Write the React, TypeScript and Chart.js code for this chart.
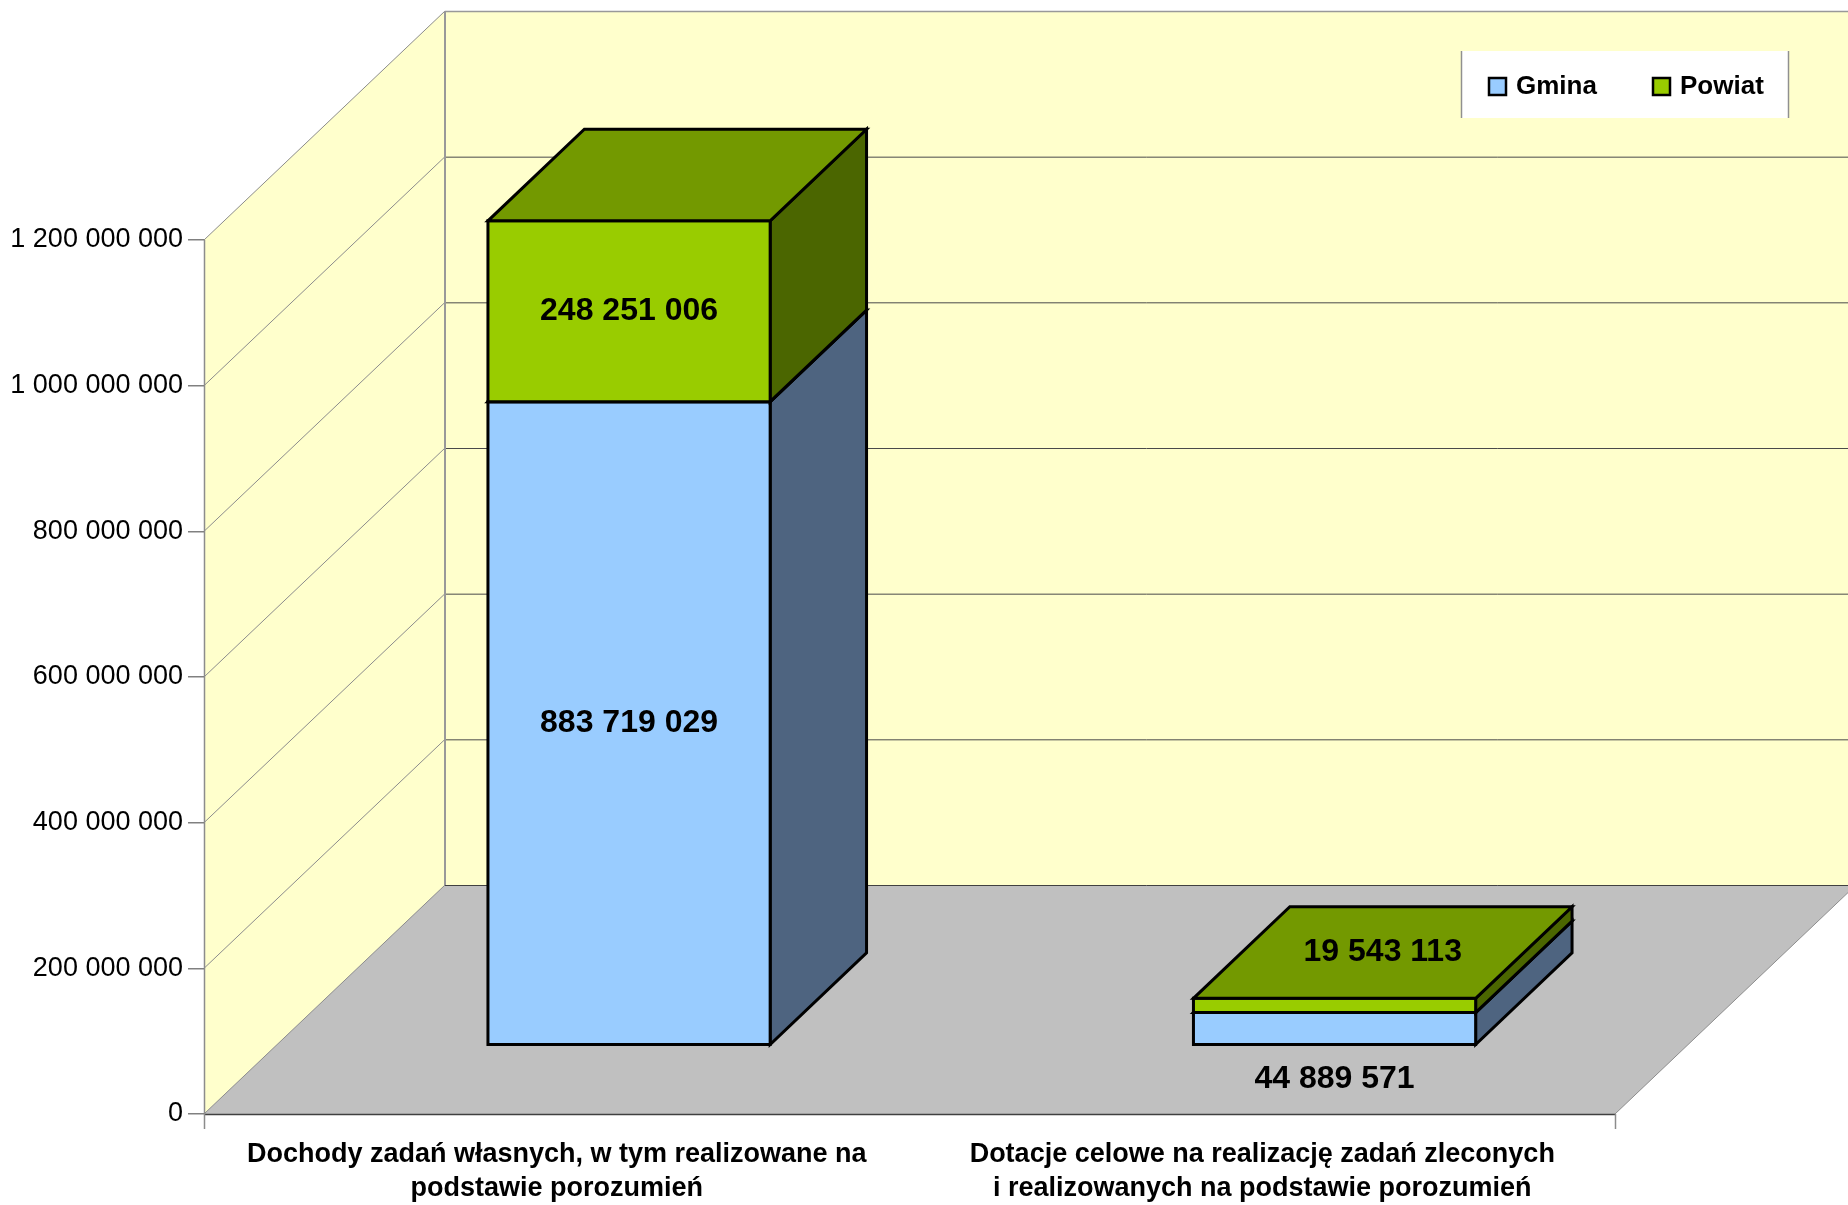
import React, { useEffect, useRef } from "react";
import { Chart, registerables } from "chart.js";

Chart.register(...registerables);

// ---------------- data ----------------
const categories: string[][] = [
  ["Dochody zadań własnych, w tym realizowane na", "podstawie porozumień"],
  ["Dotacje celowe na realizację zadań zleconych", "i realizowanych na podstawie porozumień"],
];
const seriesNames = ["Gmina", "Powiat"];
const gminaValues = [883719029, 44889571];
const powiatValues = [248251006, 19543113];
const yTickValues = [0, 200000000, 400000000, 600000000, 800000000, 1000000000, 1200000000];
// where each value label sits: on the front face, on the top face, or under the bar
const gminaLabelAnchor = ["front", "below"];
const powiatLabelAnchor = ["front", "top"];

// ---------------- styling ----------------
const W = 1848;
const H = 1205;
const FONT = '"Liberation Sans", Arial, Helvetica, sans-serif';
const WALL = "#FFFFCC";
const FLOOR = "#C0C0C0";
const DX = 241; // full depth of the 3D box, horizontal
const DY = 229; // full depth of the 3D box, vertical
const BAR_FRONT = 0.3;
const BAR_BACK = 0.7;
const faceColors = [
  { front: "#99CCFF", side: "#4E6480", top: "#7A9CC0" },
  { front: "#99CC00", side: "#4B6600", top: "#739900" },
];

const fmt = (v: number) => Math.round(v).toString().replace(/\B(?=(\d{3})+(?!\d))/g, " ");

function poly(ctx: CanvasRenderingContext2D, pts: number[][], fill?: string, stroke?: string, lw = 1) {
  ctx.beginPath();
  pts.forEach((p, i) => (i === 0 ? ctx.moveTo(p[0], p[1]) : ctx.lineTo(p[0], p[1])));
  ctx.closePath();
  if (fill) {
    ctx.fillStyle = fill;
    ctx.fill();
  }
  if (stroke) {
    ctx.strokeStyle = stroke;
    ctx.lineWidth = lw;
    ctx.stroke();
  }
}

function line(ctx: CanvasRenderingContext2D, x1: number, y1: number, x2: number, y2: number, color: string, lw: number) {
  ctx.beginPath();
  ctx.moveTo(x1, y1);
  ctx.lineTo(x2, y2);
  ctx.strokeStyle = color;
  ctx.lineWidth = lw;
  ctx.stroke();
}

const threeDPlugin = {
  id: "threeD",
  beforeDraw(chart: any) {
    const { ctx, chartArea } = chart;
    const { left, right } = chartArea;
    const ys = chart.scales.y;
    const yTop = ys.getPixelForValue(ys.max);
    const y0 = ys.getPixelForValue(0);
    const cw = chart.width;
    ctx.save();
    ctx.fillStyle = "#ffffff";
    ctx.fillRect(0, 0, cw, chart.height);
    // back wall
    ctx.fillStyle = WALL;
    ctx.fillRect(left + DX, yTop - DY, cw - left - DX, y0 - yTop);
    // side wall
    poly(ctx, [[left, yTop], [left + DX, yTop - DY], [left + DX, y0 - DY], [left, y0]], WALL);
    // floor
    poly(ctx, [[left, y0], [right, y0], [right + DX, y0 - DY], [left + DX, y0 - DY]], FLOOR);
    // grid lines
    yTickValues.forEach((v) => {
      if (v <= ys.min || v >= ys.max) return;
      const p = ys.getPixelForValue(v);
      line(ctx, left, p, left + DX, p - DY, "#8c8c8c", 1);
      line(ctx, left + DX, p - DY + 0.5, cw, p - DY + 0.5, "#4a4a4a", 1);
    });
    // edges
    line(ctx, left, yTop, left + DX, yTop - DY, "#8c8c8c", 1);
    line(ctx, left + DX, yTop - DY + 0.5, cw, yTop - DY + 0.5, "#999999", 1.5);
    line(ctx, left + DX, yTop - DY, left + DX, y0 - DY, "#999999", 2);
    line(ctx, left + DX, y0 - DY + 0.5, cw, y0 - DY + 0.5, "#404040", 1);
    line(ctx, left, y0, left + DX, y0 - DY, "#8c8c8c", 1);
    line(ctx, right, y0, right + DX, y0 - DY, "#8c8c8c", 1);
    line(ctx, left, y0 + 0.5, right, y0 + 0.5, "#404040", 1.5);
    line(ctx, left + 0.5, yTop, left + 0.5, y0 + 15, "#8c8c8c", 1.5);
    line(ctx, right + 0.5, y0, right + 0.5, y0 + 15, "#8c8c8c", 1.5);
    ctx.restore();
  },
  afterDatasetsDraw(chart: any) {
    const { ctx } = chart;
    const fx = DX * BAR_FRONT;
    const fy = DY * BAR_FRONT;
    const ddx = DX * (BAR_BACK - BAR_FRONT);
    const ddy = DY * (BAR_BACK - BAR_FRONT);
    const labels: { text: string; x: number; y: number }[] = [];
    const anchors = [gminaLabelAnchor, powiatLabelAnchor];
    ctx.save();
    ctx.lineJoin = "miter";
    for (let i = 0; i < categories.length; i++) {
      for (let d = 0; d < chart.data.datasets.length; d++) {
        const el = chart.getDatasetMeta(d).data[i];
        const p = el.getProps(["x", "y", "base", "width"], true);
        const L = p.x - p.width / 2 + fx;
        const R = p.x + p.width / 2 + fx;
        const T = Math.min(p.y, p.base) - fy;
        const B = Math.max(p.y, p.base) - fy;
        const c = faceColors[d];
        const lw = 3;
        poly(ctx, [[R, T], [R + ddx, T - ddy], [R + ddx, B - ddy], [R, B]], c.side, "#000", lw);
        poly(ctx, [[L, T], [R, T], [R, B], [L, B]], c.front, "#000", lw);
        poly(ctx, [[L, T], [R, T], [R + ddx, T - ddy], [L + ddx, T - ddy]], c.top, "#000", lw);
        const a = anchors[d][i];
        const v = chart.data.datasets[d].data[i];
        const xc = (L + R) / 2;
        let lx = xc;
        let ly = (T + B) / 2;
        if (a === "top") {
          lx = xc + ddx / 2;
          ly = T - ddy / 2;
        } else if (a === "below") {
          ly = B + 35;
        }
        labels.push({ text: fmt(v), x: lx, y: ly });
      }
    }
    ctx.fillStyle = "#000";
    ctx.font = `bold 32px ${FONT}`;
    ctx.textAlign = "center";
    ctx.textBaseline = "middle";
    labels.forEach((l) => ctx.fillText(l.text, l.x, l.y));
    ctx.restore();
  },
  afterDraw(chart: any) {
    const { ctx } = chart;
    const lx = 1461;
    const ly = 51;
    const lw = 328;
    const lh = 67;
    ctx.save();
    ctx.fillStyle = "#ffffff";
    ctx.fillRect(lx, ly, lw, lh);
    line(ctx, lx + 0.5, ly, lx + 0.5, ly + lh, "#909090", 1.5);
    line(ctx, lx + lw - 0.5, ly, lx + lw - 0.5, ly + lh, "#909090", 1.5);
    const itemX = [lx + 28, lx + 192];
    ctx.font = `bold 26px ${FONT}`;
    ctx.textAlign = "left";
    ctx.textBaseline = "middle";
    chart.data.datasets.forEach((ds: any, i: number) => {
      const x = itemX[i];
      const cy = ly + lh / 2 + 2;
      ctx.fillStyle = faceColors[i].front;
      ctx.fillRect(x, cy - 8.5, 17, 17);
      ctx.strokeStyle = "#000";
      ctx.lineWidth = 2.5;
      ctx.strokeRect(x, cy - 8.5, 17, 17);
      ctx.fillStyle = "#000";
      ctx.fillText(ds.label, x + 27, cy);
    });
    ctx.restore();
  },
};

export default function App() {
  const ref = useRef<HTMLCanvasElement>(null);
  useEffect(() => {
    document.body.style.margin = "0";
    const canvas = ref.current;
    if (!canvas) return;
    const chart = new Chart(canvas, {
      type: "bar",
      data: {
        labels: categories as any,
        datasets: [
          {
            label: seriesNames[0],
            data: gminaValues,
            backgroundColor: "rgba(0,0,0,0)",
            borderWidth: 0,
          },
          {
            label: seriesNames[1],
            data: powiatValues,
            backgroundColor: "rgba(0,0,0,0)",
            borderWidth: 0,
          },
        ],
      },
      options: {
        responsive: false,
        animation: false,
        devicePixelRatio: 1,
        events: [],
        layout: { padding: { top: 240, right: 233, bottom: 0, left: 0 } },
        datasets: { bar: { barPercentage: 0.4, categoryPercentage: 1 } },
        plugins: {
          legend: { display: false },
          title: { display: false },
          tooltip: { enabled: false },
        },
        scales: {
          x: {
            stacked: true,
            afterFit: (s: any) => {
              s.height = 91;
            },
            grid: { display: false, drawTicks: false },
            border: { display: false },
            ticks: {
              color: "#000",
              font: { family: FONT, size: 27, weight: "bold", lineHeight: 1.25 },
              padding: 24,
              maxRotation: 0,
              autoSkip: false,
            },
          },
          y: {
            stacked: true,
            min: 0,
            max: 1200000000,
            afterBuildTicks: (s: any) => {
              s.ticks = yTickValues.map((v) => ({ value: v }));
            },
            afterFit: (s: any) => {
              s.width = 204;
            },
            grid: {
              display: true,
              drawOnChartArea: false,
              drawTicks: true,
              tickLength: 16,
              color: "#808080",
              lineWidth: 1.5,
            },
            border: { display: false },
            ticks: {
              color: "#000",
              font: { family: FONT, size: 27 },
              padding: 5,
              callback: (v: any) => fmt(Number(v)),
            },
          },
        },
      },
      plugins: [threeDPlugin],
    } as any);
    return () => chart.destroy();
  }, []);
  return (
    <div style={{ width: W, height: H, background: "#fff" }}>
      <canvas ref={ref} width={W} height={H} style={{ display: "block", width: W, height: H }} />
    </div>
  );
}
